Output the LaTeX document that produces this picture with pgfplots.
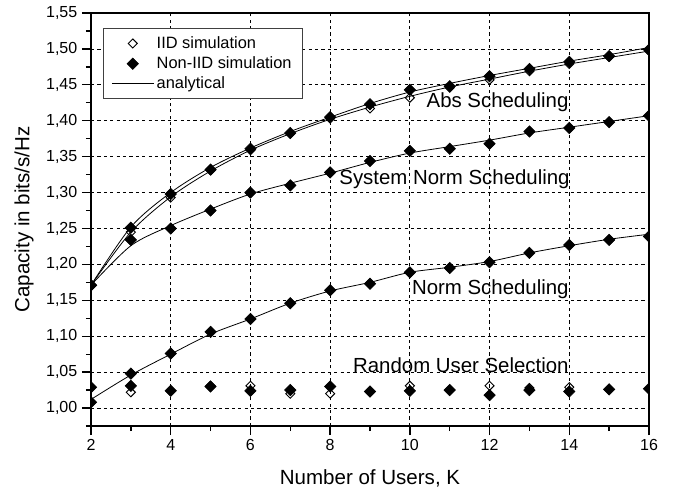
\documentclass[border=0pt]{standalone}
\usepackage{fontspec}
\setmainfont{Liberation Sans}
\usepackage{pgfplots}
\usepackage{pgfplotstable}
\pgfplotsset{compat=1.18}
\pgfplotsset{
  mylegmark/.style={legend image code/.code={\path[draw=none, fill=none] (0cm,-2pt) rectangle (1.1cm,2pt);\draw[##1, only marks] plot coordinates {(0.55cm,0cm)};}},
  mylegline/.style={legend image code/.code={\draw[##1] (0cm,0cm) -- (1.1cm,0cm);}},
}

\pgfplotstableread{
K  absI   absN   sysN   normN  rndI   rndN
2  1.171  1.171  1.171  1.008  1.029  1.029
3  1.245  1.251  1.234  1.048  1.022  1.031
4  1.293  1.298  1.250  1.076  1.024  1.024
5  1.331  1.332  1.275  1.106  1.031  1.030
6  1.359  1.361  1.300  1.124  1.031  1.024
7  1.382  1.383  1.310  1.146  1.020  1.025
8  1.403  1.405  1.328  1.164  1.020  1.030
9  1.417  1.423  1.344  1.173  1.022  1.023
10 1.432  1.443  1.358  1.189  1.031  1.024
11 1.446  1.448  1.361  1.195  1.025  1.025
12 1.457  1.462  1.368  1.203  1.031  1.018
13 1.469  1.472  1.385  1.216  1.028  1.025
14 1.479  1.482  1.390  1.227  1.029  1.023
15 1.489  1.490  1.398  1.234  1.026  1.026
16 1.497  1.499  1.407  1.239  1.027  1.027
}\simdata

\pgfplotstableread{
K  absU   absL   sys    norm
2  1.171  1.171  1.171  1.012
3  1.252  1.245  1.226  1.046
4  1.300  1.294  1.254  1.075
5  1.335  1.330  1.277  1.103
6  1.362  1.359  1.298  1.124
7  1.385  1.382  1.313  1.146
8  1.405  1.402  1.327  1.163
9  1.424  1.419  1.342  1.175
10 1.440  1.434  1.355  1.189
11 1.452  1.447  1.364  1.196
12 1.463  1.458  1.373  1.204
13 1.473  1.469  1.383  1.216
14 1.483  1.479  1.391  1.226
15 1.492  1.488  1.399  1.235
16 1.502  1.497  1.407  1.242
}\anadata

\begin{document}
\begin{tikzpicture}
\useasboundingbox (-68.25pt,-50.25pt) rectangle (447.75pt,319.5pt);
\begin{axis}[
  at={(0,0)}, anchor=south west,
  scale only axis, width=418.5pt, height=309.75pt,
  xmin=2, xmax=16, ymin=0.975, ymax=1.55,
  xtick={2,4,6,8,10,12,14,16},
  minor xtick={3,5,7,9,11,13,15},
  ytick={1.00,1.05,1.10,1.15,1.20,1.25,1.30,1.35,1.40,1.45,1.50,1.55},
  minor ytick={0.975,1.025,1.075,1.125,1.175,1.225,1.275,1.325,1.375,1.425,1.475,1.525},
  xtick pos=bottom, ytick pos=left,
  tick align=outside,
  major tick length=6.75pt, minor tick length=3.75pt,
  every tick/.style={black, line width=1pt},
  axis line style={line width=1.4pt},
  grid=major,
  major grid style={black, line width=0.6pt, dash pattern=on 2.4pt off 2.4pt},
  /pgf/number format/assume math mode=true,
  yticklabel style={/pgf/number format/.cd, fixed, fixed zerofill, precision=2, use comma, assume math mode=true},
  ticklabel style={font=\fontsize{12}{14}\selectfont},
  xlabel={Number of Users, K},
  ylabel={Capacity in bits/s/Hz},
  label style={font=\fontsize{15.4}{18}\selectfont},
  xlabel style={at={(axis description cs:0.5,-0.126)}, anchor=center},
  ylabel style={at={(axis description cs:-0.1201,0.5)}, anchor=center},
  clip mode=individual, clip marker paths=true,
  legend style={at={(axis description cs:0.0215,0.9637)}, anchor=north west,
    draw=black!75, line width=0.8pt, fill=white,
    font=\fontsize{12.3}{15}\selectfont, inner xsep=6pt, inner ysep=4pt,
    row sep=0.75pt},
  legend cell align=left,
]
\addlegendimage{only marks, mark=square, mark size=2.4pt, mark options={rotate=45, fill=white, line width=0.7pt}, mylegmark}
\addlegendentry{IID simulation}
\addlegendimage{only marks, mark=square*, mark size=3.0pt, mark options={rotate=45, fill=black, line width=0.5pt}, mylegmark}
\addlegendentry{Non-IID simulation}
\addlegendimage{black, line width=0.6pt, mylegline}
\addlegendentry{analytical}

% analytical lines
\addplot[black, line width=0.6pt, smooth, no marks, forget plot] table[x=K, y=absU] {\anadata};
\addplot[black, line width=0.6pt, smooth, no marks, forget plot] table[x=K, y=absL] {\anadata};
\addplot[black, line width=0.6pt, smooth, no marks, forget plot] table[x=K, y=sys] {\anadata};
\addplot[black, line width=0.6pt, smooth, no marks, forget plot] table[x=K, y=norm] {\anadata};

% IID simulation (hollow)
\addplot[only marks, mark=square, mark size=2.4pt, mark options={rotate=45, fill=white, line width=0.7pt}, forget plot] table[x=K, y=absI] {\simdata};
\addplot[only marks, mark=square, mark size=2.4pt, mark options={rotate=45, fill=white, line width=0.7pt}, forget plot] table[x=K, y=sysN] {\simdata};
\addplot[only marks, mark=square, mark size=2.4pt, mark options={rotate=45, fill=white, line width=0.7pt}, forget plot] table[x=K, y=normN] {\simdata};
\addplot[only marks, mark=square, mark size=2.4pt, mark options={rotate=45, fill=white, line width=0.7pt}, forget plot] table[x=K, y=rndI] {\simdata};

% Non-IID simulation (filled)
\addplot[only marks, mark=square*, mark size=3.0pt, mark options={rotate=45, fill=black, line width=0.5pt}, forget plot] table[x=K, y=absN] {\simdata};
\addplot[only marks, mark=square*, mark size=3.0pt, mark options={rotate=45, fill=black, line width=0.5pt}, forget plot] table[x=K, y=sysN] {\simdata};
\addplot[only marks, mark=square*, mark size=3.0pt, mark options={rotate=45, fill=black, line width=0.5pt}, forget plot] table[x=K, y=normN] {\simdata};
\addplot[only marks, mark=square*, mark size=3.0pt, mark options={rotate=45, fill=black, line width=0.5pt}, forget plot] table[x=K, y=rndN] {\simdata};

\node[anchor=base, font=\fontsize{15.3}{18}\selectfont, inner sep=0pt] at (axis cs:12.20,1.4178) {Abs Scheduling};
\node[anchor=base, font=\fontsize{15.3}{18}\selectfont, inner sep=0pt] at (axis cs:11.12,1.3115) {System Norm Scheduling};
\node[anchor=base, font=\fontsize{15.3}{18}\selectfont, inner sep=0pt] at (axis cs:12.02,1.1574) {Norm Scheduling};
\node[anchor=base, font=\fontsize{15.3}{18}\selectfont, inner sep=0pt] at (axis cs:11.28,1.0497) {Random User Selection};
\end{axis}
\end{tikzpicture}
\end{document}
